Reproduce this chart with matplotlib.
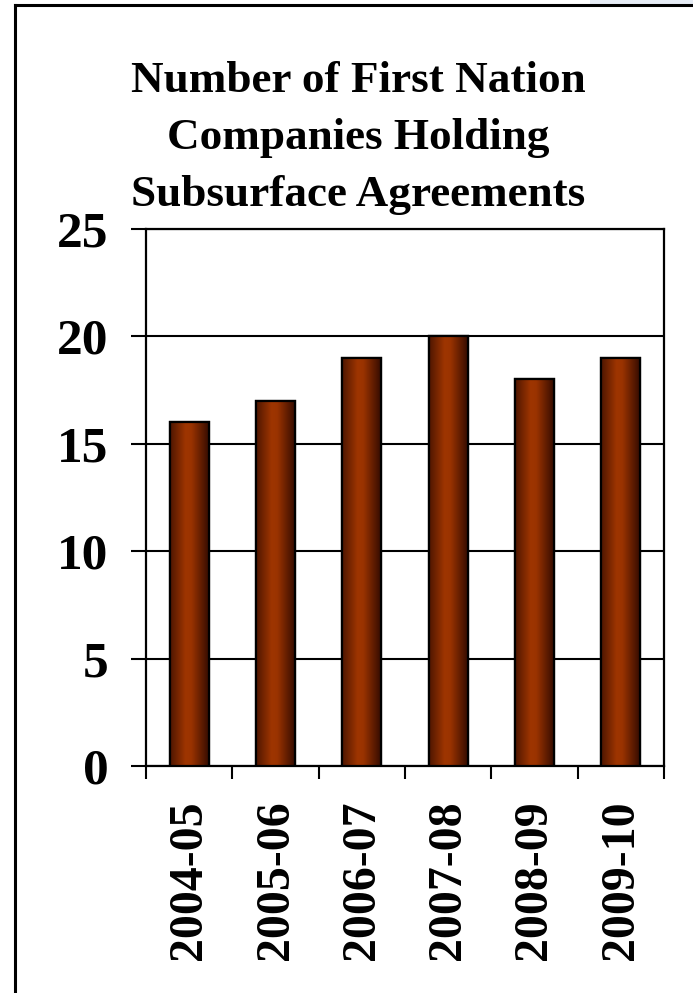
#!/usr/bin/env python3
"""
Bar chart: number of First Nation companies holding subsurface agreements.
"""

import numpy as np
import matplotlib
matplotlib.use('Agg')
import matplotlib.pyplot as plt
from matplotlib.colors import LinearSegmentedColormap
from matplotlib.patches import Rectangle
from matplotlib.lines import Line2D

# data
years = ['2004-05', '2005-06', '2006-07', '2007-08', '2008-09', '2009-10']
companies = [16, 17, 19, 20, 18, 19]
y_ticks = [0, 5, 10, 15, 20, 25]
title_lines = ['Number of First Nation', 'Companies Holding', 'Subsurface Agreements']

plt.rcParams['font.family'] = ['Liberation Serif', 'DejaVu Serif']
plt.rcParams['font.weight'] = 'bold'

W, H = 693, 993
fig = plt.figure(figsize=(W / 100, H / 100), dpi=100)
fig.patch.set_facecolor('white')

# plot area in pixels
left, right, top, bottom = 146, 664, 229, 766
ax = fig.add_axes([left / W, 1 - bottom / H, (right - left) / W, (bottom - top) / H])

x = np.arange(len(years))
bars = ax.bar(x, companies, width=0.45, color='#993300', edgecolor='black',
              linewidth=1.6, zorder=3)

# horizontal shading on each bar, dark edges and bright middle
shade = LinearSegmentedColormap.from_list(
    'rust', [(0.0, '#4e1600'), (0.4, '#9e3500'), (0.55, '#9a3300'), (1.0, '#360c00')])
grad = np.linspace(0, 1, 256).reshape(1, -1)
for b in bars:
    bx, bw, bh = b.get_x(), b.get_width(), b.get_height()
    im = ax.imshow(grad, cmap=shade, extent=[bx, bx + bw, 0, bh],
                   aspect='auto', zorder=3.5, interpolation='bicubic')
    im.set_clip_path(b)
    # redraw outline above the shading
    ax.add_patch(Rectangle((bx, 0), bw, bh, fill=False, edgecolor='black',
                           linewidth=1.6, zorder=4))

ax.set_xlim(-0.5, len(years) - 0.5)
ax.set_ylim(0, 25)

ax.set_yticks(y_ticks)
ax.set_yticklabels([str(t) for t in y_ticks], fontsize=37, fontweight='bold')
ax.yaxis.grid(True, color='black', linewidth=1.5, zorder=1)
ax.set_axisbelow(True)
ax.tick_params(axis='y', length=11, width=1.5, pad=16)

ax.set_xticks(x)
ax.set_xticklabels(years, rotation=90, fontsize=34.5, fontweight='bold')
ax.set_xticks(np.arange(len(years) + 1) - 0.5, minor=True)
ax.tick_params(axis='x', which='major', length=0, pad=25)
ax.tick_params(axis='x', which='minor', length=9, width=1.5)

for s in ax.spines.values():
    s.set_linewidth(1.6)
    s.set_color('black')

# title, one text per line
baselines = [92, 149, 206]
for line, yb in zip(title_lines, baselines):
    fig.text(358 / W, 1 - yb / H, line, ha='center', va='baseline',
             fontsize=32.5, fontweight='bold')

# outer frame (cropped on right and bottom)
fig.add_artist(Line2D([15 / W, 15 / W], [1 - 5 / H, 0], color='black',
                      linewidth=2.2, transform=fig.transFigure))
fig.add_artist(Line2D([15 / W, 1], [1 - 5 / H, 1 - 5 / H], color='black',
                      linewidth=2.2, transform=fig.transFigure))
fig.add_artist(Rectangle((590 / W, 1 - 4 / H), 103 / W, 4 / H, color='#e6ecf5',
                         transform=fig.transFigure, linewidth=0))

fig.savefig('out.png', dpi=100)
